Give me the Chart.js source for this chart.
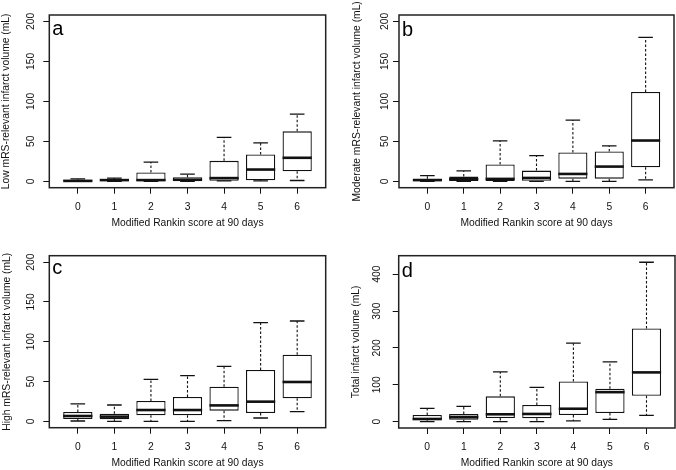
<!DOCTYPE html>
<html>
<head>
<meta charset="utf-8">
<title>Infarct volume by mRS</title>
<script src="https://cdn.jsdelivr.net/npm/chart.js@4.4.1/dist/chart.umd.min.js"></script>
<style>
  body { margin: 0; background: #fff; }
  #wrap { position: relative; width: 676px; height: 470px; overflow: hidden; }
  #wrap canvas { position: absolute; }
</style>
</head>
<body>
<div id="wrap">
  <canvas id="panelA" width="338" height="235" style="left:0;top:0"></canvas>
  <canvas id="panelB" width="338" height="235" style="left:338px;top:0"></canvas>
  <canvas id="panelC" width="338" height="235" style="left:0;top:235px"></canvas>
  <canvas id="panelD" width="338" height="235" style="left:338px;top:235px"></canvas>
</div>
<script>
// Scores mRS et graduations
const mrsScores = [0, 1, 2, 3, 4, 5, 6];
const volumeTicks = [0, 50, 100, 150, 200];
const totalTicks = [0, 100, 200, 300, 400];

// a : volume "low mRS-relevant"
const lowMin = [0, 0, 0, 0, 0.5, 0.5, 1];
const lowQ1 = [0, 0.3, 0.3, 0.2, 0.7, 1.3, 12.6];
const lowMed = [0.5, 1.5, 1.5, 2, 4, 14.7, 29.4];
const lowQ3 = [2, 2.5, 11, 5, 25.6, 33.6, 62.5];
const lowMax = [3, 4, 24, 9, 55, 48, 84];

// b : volume "moderate mRS-relevant"
const modMin = [0, 0, 0, 0, 0, 0, 1.7];
const modQ1 = [0, 0.5, 0.5, 0, 3.3, 3.3, 17.6];
const modMed = [1.5, 2.5, 3, 4.2, 9.2, 18.4, 51];
const modQ3 = [3.3, 5.9, 21, 13.4, 36, 37.2, 111.7];
const modMax = [7, 13, 50.6, 32, 76.6, 44.4, 180];

// c : volume "high mRS-relevant"
const highMin = [0.4, 0, 0, 0, 0.8, 4.2, 12.1];
const highQ1 = [2.9, 2.5, 7.5, 7.5, 13.4, 10.5, 28.9];
const highMed = [6.7, 5.9, 14.2, 14.2, 20, 24.7, 49.4];
const highQ3 = [11.7, 9.6, 25.5, 30.5, 43.5, 64.4, 83.7];
const highMax = [21.8, 20.5, 52.7, 57.3, 69, 124, 126];

// d : volume total
const totalMin = [0, 0, 0, 0, 1.8, 6.3, 17.2];
const totalQ1 = [3.6, 5.4, 10, 9, 18, 23.5, 70.4];
const totalMed = [7.2, 12.6, 19.9, 20.8, 35, 80, 133.6];
const totalQ3 = [18, 20.8, 68.6, 45, 109, 89.4, 253];
const totalMax = [36, 41.5, 135, 93, 213, 162, 432.5];

const FONT = "'Liberation Sans', Arial, Helvetica, sans-serif";
const INK = '#111';

const panels = [
  {
    id: 'panelA', letter: 'a', letterDrop: 20,
    yTitle: 'Low mRS-relevant infarct volume (mL)',
    stats: { min: lowMin, q1: lowQ1, med: lowMed, q3: lowQ3, max: lowMax },
    yTicks: volumeTicks, yMin: -8, yMax: 208,
    yWidth: 49.3, padTop: 15, padRight: 12.3, xHeight: 47.3,
    yLabelGap: 18.5, yTitlePad: 0, xTitlePad: 6.1
  },
  {
    id: 'panelB', letter: 'b', letterDrop: 21,
    yTitle: 'Moderate mRS-relevant infarct volume (mL)',
    stats: { min: modMin, q1: modQ1, med: modMed, q3: modQ3, max: modMax },
    yTicks: volumeTicks, yMin: -8, yMax: 208,
    yWidth: 61, padTop: 15, padRight: 2, xHeight: 47.3,
    yLabelGap: 13.5, yTitlePad: 13.3, xTitlePad: 6.1
  },
  {
    id: 'panelC', letter: 'c', letterDrop: 18,
    yTitle: 'High mRS-relevant infarct volume (mL)',
    stats: { min: highMin, q1: highQ1, med: highMed, q3: highQ3, max: highMax },
    yTicks: volumeTicks, yMin: -8, yMax: 208,
    yWidth: 49.3, padTop: 20.7, padRight: 12.3, xHeight: 42.3,
    yLabelGap: 18.3, yTitlePad: 0.5, xTitlePad: 0.5
  },
  {
    id: 'panelD', letter: 'd', letterDrop: 21,
    yTitle: 'Total infarct volume (mL)',
    stats: { min: totalMin, q1: totalQ1, med: totalMed, q3: totalQ3, max: totalMax },
    yTicks: totalTicks, yMin: -17.3, yMax: 450.3,
    yWidth: 60.7, padTop: 20.7, padRight: 1, xHeight: 42,
    yLabelGap: 21.4, yTitlePad: 11.8, xTitlePad: 0.2
  }
];

// Moustaches, médianes, cadre, étiquettes verticales et lettre du panneau
function boxExtras(p) {
  return {
    id: 'boxExtras',
    afterDatasetsDraw(chart) {
      const { ctx, chartArea } = chart;
      const y = chart.scales.y;
      const meta = chart.getDatasetMeta(0);
      ctx.save();
      ctx.strokeStyle = INK;
      meta.data.forEach((bar, i) => {
        const x = bar.x;
        const w = bar.width;
        const pMin = y.getPixelForValue(p.stats.min[i]);
        const pQ1 = y.getPixelForValue(p.stats.q1[i]);
        const pMed = y.getPixelForValue(p.stats.med[i]);
        const pQ3 = y.getPixelForValue(p.stats.q3[i]);
        const pMax = y.getPixelForValue(p.stats.max[i]);

        ctx.lineWidth = 1.1;
        ctx.setLineDash([2.5, 2]);
        ctx.beginPath();
        ctx.moveTo(x, pQ3);
        ctx.lineTo(x, pMax);
        ctx.moveTo(x, pQ1);
        ctx.lineTo(x, pMin);
        ctx.stroke();

        ctx.setLineDash([]);
        ctx.lineWidth = 1.3;
        ctx.beginPath();
        ctx.moveTo(x - w / 4, pMax);
        ctx.lineTo(x + w / 4, pMax);
        ctx.moveTo(x - w / 4, pMin);
        ctx.lineTo(x + w / 4, pMin);
        ctx.stroke();

        ctx.lineWidth = 2.6;
        ctx.beginPath();
        ctx.moveTo(x - w / 2, pMed);
        ctx.lineTo(x + w / 2, pMed);
        ctx.stroke();
      });

      ctx.lineWidth = 1.5;
      ctx.strokeStyle = '#222';
      ctx.strokeRect(chartArea.left, chartArea.top, chartArea.right - chartArea.left, chartArea.bottom - chartArea.top);

      // étiquettes de l'axe y, tournées comme dans R
      ctx.fillStyle = INK;
      ctx.font = '10.3px ' + FONT;
      ctx.textAlign = 'center';
      ctx.textBaseline = 'middle';
      p.yTicks.forEach((v) => {
        ctx.save();
        ctx.translate(chartArea.left - p.yLabelGap, y.getPixelForValue(v));
        ctx.rotate(-Math.PI / 2);
        ctx.fillText(String(v), 0, 0);
        ctx.restore();
      });

      ctx.fillStyle = '#000';
      ctx.font = '20px ' + FONT;
      ctx.textAlign = 'left';
      ctx.textBaseline = 'alphabetic';
      ctx.fillText(p.letter, chartArea.left + 3, chartArea.top + p.letterDrop);
      ctx.restore();
    }
  };
}

panels.forEach((p) => {
  const ctx = document.getElementById(p.id).getContext('2d');
  new Chart(ctx, {
    type: 'bar',
    data: {
      datasets: [{
        data: mrsScores.map((s, i) => ({ x: s, y: [p.stats.q1[i], p.stats.q3[i]] })),
        backgroundColor: '#fff',
        borderColor: INK,
        borderWidth: 1.3,
        borderSkipped: false,
        inflateAmount: 0,
        barPercentage: 0.8,
        categoryPercentage: 1
      }]
    },
    options: {
      responsive: false,
      animation: false,
      layout: { padding: { left: 0, right: p.padRight, top: p.padTop, bottom: 0 } },
      plugins: {
        legend: { display: false },
        tooltip: { enabled: false }
      },
      scales: {
        x: {
          type: 'linear',
          offset: false,
          min: -0.78,
          max: 6.78,
          afterBuildTicks: (axis) => { axis.ticks = mrsScores.map((v) => ({ value: v })); },
          afterFit: (axis) => { axis.height = p.xHeight; },
          ticks: { color: INK, font: { family: FONT, size: 10.3 }, padding: 6.8, maxRotation: 0, autoSkip: false },
          grid: { offset: false, drawOnChartArea: false, tickLength: 6, color: INK, lineWidth: 1 },
          border: { display: false },
          title: {
            display: true,
            text: 'Modified Rankin score at 90 days',
            color: INK,
            font: { family: FONT, size: 10.3 },
            padding: { top: 0, bottom: p.xTitlePad }
          }
        },
        y: {
          type: 'linear',
          min: p.yMin,
          max: p.yMax,
          afterBuildTicks: (axis) => { axis.ticks = p.yTicks.map((v) => ({ value: v })); },
          afterFit: (axis) => { axis.width = p.yWidth; },
          ticks: { display: false },
          grid: { drawOnChartArea: false, drawTicks: true, tickLength: 6, color: INK, lineWidth: 1 },
          border: { display: false },
          title: {
            display: true,
            text: p.yTitle,
            color: INK,
            font: { family: FONT, size: 10.3 },
            padding: { top: p.yTitlePad, bottom: 0 }
          }
        }
      }
    },
    plugins: [boxExtras(p)]
  });
});
</script>
</body>
</html>
